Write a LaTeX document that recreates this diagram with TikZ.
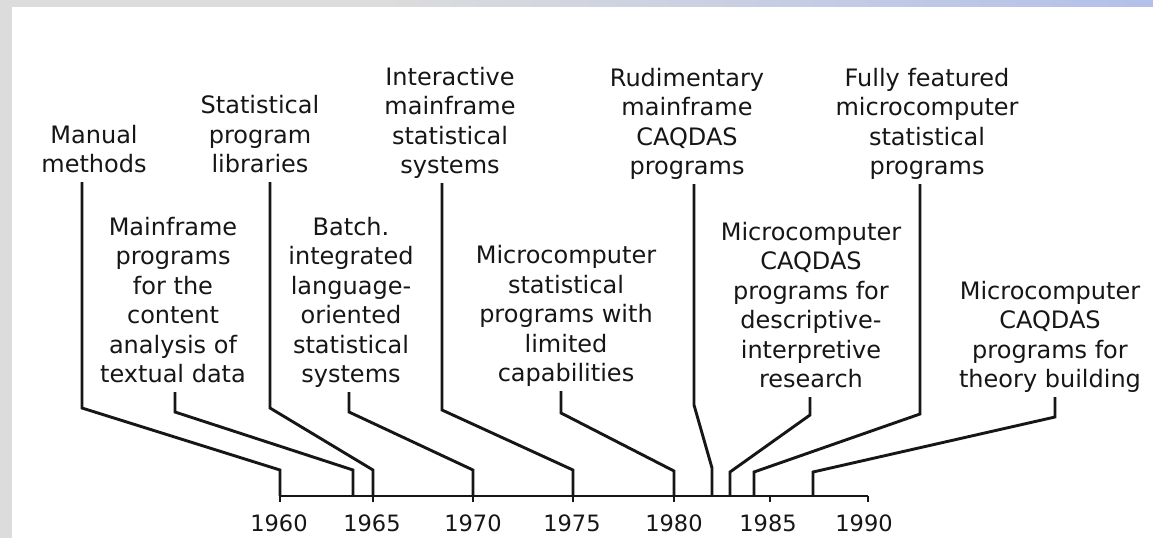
\documentclass[tikz,border=0pt]{standalone}
\usepackage{fontspec}
\setmainfont{DejaVu Sans}
\definecolor{ink}{RGB}{22,22,22}
\definecolor{framegray}{RGB}{220,220,220}
\definecolor{frameblue}{RGB}{178,192,234}
\begin{document}
\begin{tikzpicture}[x=1pt,y=-1pt,
  lbl/.style={inner sep=0pt, anchor=south, align=center, text=ink, font=\fontsize{24}{29.5}\selectfont},
  yr/.style={inner sep=0pt, anchor=base, text=ink, font=\fontsize{22.5}{26}\selectfont},
  conn/.style={draw=ink, line width=2.9pt, line join=miter},
  tick/.style={draw=ink, line width=2.6pt}]
\useasboundingbox (0,0) rectangle (1153,538);
% frame
\fill[framegray] (0,0) rectangle (1153,538);
\shade[left color=framegray, right color=frameblue] (380,0) rectangle (1153,7);
\fill[white] (12,7) rectangle (1153,538);

% axis points
\coordinate (t60) at (280,496);
\coordinate (t64) at (353,496);
\coordinate (t65) at (373,496);
\coordinate (t70) at (473,496);
\coordinate (t75) at (573,496);
\coordinate (t80) at (674,496);
\coordinate (t82) at (712,496);
\coordinate (t83) at (730,496);
\coordinate (t84) at (754,496);
\coordinate (t85) at (770,496);
\coordinate (t87) at (813,496);
\coordinate (t90) at (868,496);

% labels (upper row)
\node[lbl] (manual) at (94,182) {Manual\\methods\strut};
\node[lbl] (statlib) at (260,182) {Statistical\\program\\libraries\strut};
\node[lbl] (inter) at (450,183) {Interactive\\mainframe\\statistical\\systems\strut};
\node[lbl] (rudi) at (687,184) {Rudimentary\\mainframe\\CAQDAS\\programs\strut};
\node[lbl] (fully) at (927,184) {Fully featured\\microcomputer\\statistical\\programs\strut};
% labels (lower row)
\node[lbl] (mainf) at (173,392) {Mainframe\\programs\\for the\\content\\analysis of\\textual data\strut};
\node[lbl] (batch) at (351,392) {Batch.\\integrated\\language-\\oriented\\statistical\\systems\strut};
\node[lbl] (mstat) at (566,391) {Microcomputer\\statistical\\programs with\\limited\\capabilities\strut};
\node[lbl] (mdesc) at (811,397) {Microcomputer\\CAQDAS\\programs for\\descriptive-\\interpretive\\research\strut};
\node[lbl] (mtheo) at (1050,397) {Microcomputer\\CAQDAS\\programs for\\theory building\strut};

% axis
\draw[conn] (t60) -- (t90);
\foreach \t in {t60,t65,t70,t75,t80,t85,t90}
  \draw[tick] (\t) -- ++(0,6);

% connectors
\draw[conn] ([xshift=-12pt]manual.south) -- (82,408) -- (280,470) -- (t60);
\draw[conn] ([xshift=2pt]mainf.south) -- (175,412) -- (353,470) -- (t64);
\draw[conn] ([xshift=10pt]statlib.south) -- (270,408) -- (373,470) -- (t65);
\draw[conn] ([xshift=-2pt]batch.south) -- (349,412) -- (473,470) -- (t70);
\draw[conn] ([xshift=-8pt]inter.south) -- (442,410) -- (573,470) -- (t75);
\draw[conn] ([xshift=-5pt]mstat.south) -- (561,413) -- (674,471) -- (t80);
\draw[conn] ([xshift=7pt]rudi.south) -- (694,405) -- (712,468) -- (t82);
\draw[conn] ([xshift=-1pt]mdesc.south) -- (810,415) -- (730,472) -- (t83);
\draw[conn] ([xshift=-7pt]fully.south) -- (920,414) -- (754,472) -- (t84);
\draw[conn] ([xshift=5pt]mtheo.south) -- (1055,417) -- (813,472) -- (t87);

% years
\node[yr] (y60) at (279,531) {1960};
\node[yr] (y65) at (372,531) {1965};
\node[yr] (y70) at (473,531) {1970};
\node[yr] (y75) at (572,531) {1975};
\node[yr] (y80) at (674,531) {1980};
\node[yr] (y85) at (768,531) {1985};
\node[yr] (y90) at (864,531) {1990};
\end{tikzpicture}
\end{document}
